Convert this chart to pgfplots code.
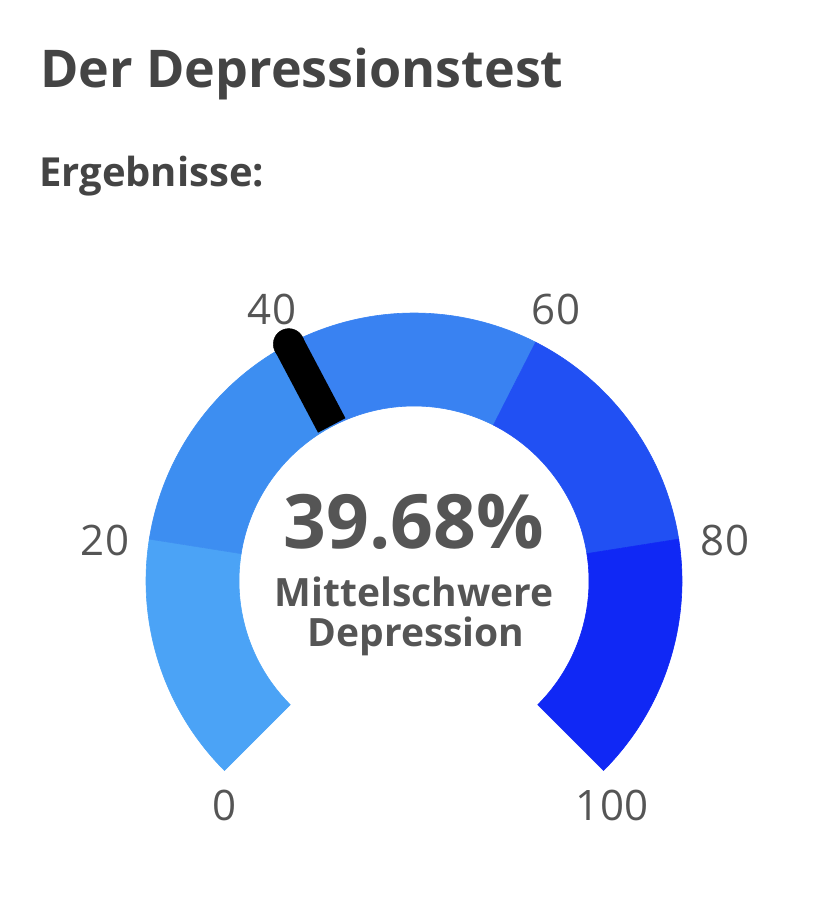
\documentclass[border=0pt]{standalone}
\usepackage{pgfplots}
\pgfplotsset{compat=1.18}
\usepackage{pgfplotstable}
\usepackage{fontspec}
\setmainfont{Open Sans}
\definecolor{seg1}{RGB}{75,163,246}
\definecolor{seg2}{RGB}{61,142,241}
\definecolor{seg3}{RGB}{57,130,242}
\definecolor{seg4}{RGB}{33,80,243}
\definecolor{seg5}{RGB}{16,40,245}
\definecolor{txtdark}{RGB}{68,68,68}
\definecolor{txtgray}{RGB}{85,85,85}

% gauge segments (score ranges)
\pgfplotstableread{
x y from to color
414 581 0 20 1
414 581 20 40 2
414 581 40 60 3
414 581 60 80 4
414 581 80 100 5
}\segments
% needle value
\pgfplotstableread{
x y value
414 581 39.68
}\needle
% gauge scale labels
\pgfplotstableread{
x y label
225 805 0
105 540 20
272 309 40
556 309 60
725 540 80
612 805 100
}\ticklabels

\begin{document}
\begin{tikzpicture}
\begin{axis}[
  width=828bp, height=899bp, scale only axis,
  xmin=0, xmax=828, ymin=0, ymax=899, y dir=reverse,
  axis lines=none, ticks=none, clip=false,
  point meta min=0, point meta max=100,
]
\path[draw=none] (rel axis cs:0,0) rectangle (rel axis cs:1,1);
\addplot[scatter, only marks, mark=text, text mark={},
  point meta=\thisrow{from},
  visualization depends on={\thisrow{from} \as \segFrom},
  visualization depends on={\thisrow{to} \as \segTo},
  visualization depends on={\thisrow{color} \as \segIdx},
  scatter/@pre marker code/.code={%
    \pgfmathsetmacro\angA{225-2.7*\segFrom}%
    \pgfmathsetmacro\angB{225-2.7*\segTo}%
    \pgfmathtruncatemacro\ci{\segIdx}%
    \filldraw[fill=seg\ci, draw=seg\ci, line width=0.6bp] (\angA:175bp) -- (\angA:268bp)
      arc[start angle=\angA, end angle=\angB, radius=268bp] -- (\angB:175bp)
      arc[start angle=\angB, end angle=\angA, radius=175bp] -- cycle;
  },
  scatter/@post marker code/.code={},
] table[x=x, y=y] {\segments};

\addplot[scatter, only marks, mark=text, text mark={},
  point meta=\thisrow{value},
  visualization depends on={\thisrow{value} \as \needleVal},
  scatter/@pre marker code/.code={%
    \pgfmathsetmacro\angN{225-2.7*\needleVal}%
    \draw[black, line width=31bp] (\angN:176bp) -- (\angN:268bp);
    \fill[black] (\angN:268bp) circle[radius=15.5bp];
  },
  scatter/@post marker code/.code={},
] table[x=x, y=y] {\needle};

\addplot[draw=none, mark=none, nodes near coords, point meta=explicit symbolic,
  nodes near coords style={anchor=center, inner sep=0pt,
    font=\fontsize{42bp}{50bp}\selectfont, text=txtgray}]
  table[x=x, y=y, meta=label] {\ticklabels};

\node[anchor=base west, inner sep=0pt, text=txtdark,
  font={\fontsize{52bp}{60bp}\selectfont\bfseries}] at (axis cs:40,88) {Der Depressionstest};
\node[anchor=base west, inner sep=0pt, text=txtdark,
  font={\fontsize{40bp}{48bp}\selectfont\bfseries}] at (axis cs:39,187) {Ergebnisse:};
\node[anchor=base, inner sep=0pt, text=txtgray,
  font={\fontsize{75bp}{82bp}\selectfont\bfseries}] at (axis cs:414,548) {39.68\%};
\node[anchor=base, inner sep=0pt, text=txtgray,
  font={\fontsize{39bp}{44bp}\selectfont\bfseries}] at (axis cs:414,606) {Mittelschwere};
\node[anchor=base, inner sep=0pt, text=txtgray,
  font={\fontsize{39bp}{44bp}\selectfont\bfseries}] at (axis cs:416,646) {Depression};
\end{axis}
\end{tikzpicture}
\end{document}
